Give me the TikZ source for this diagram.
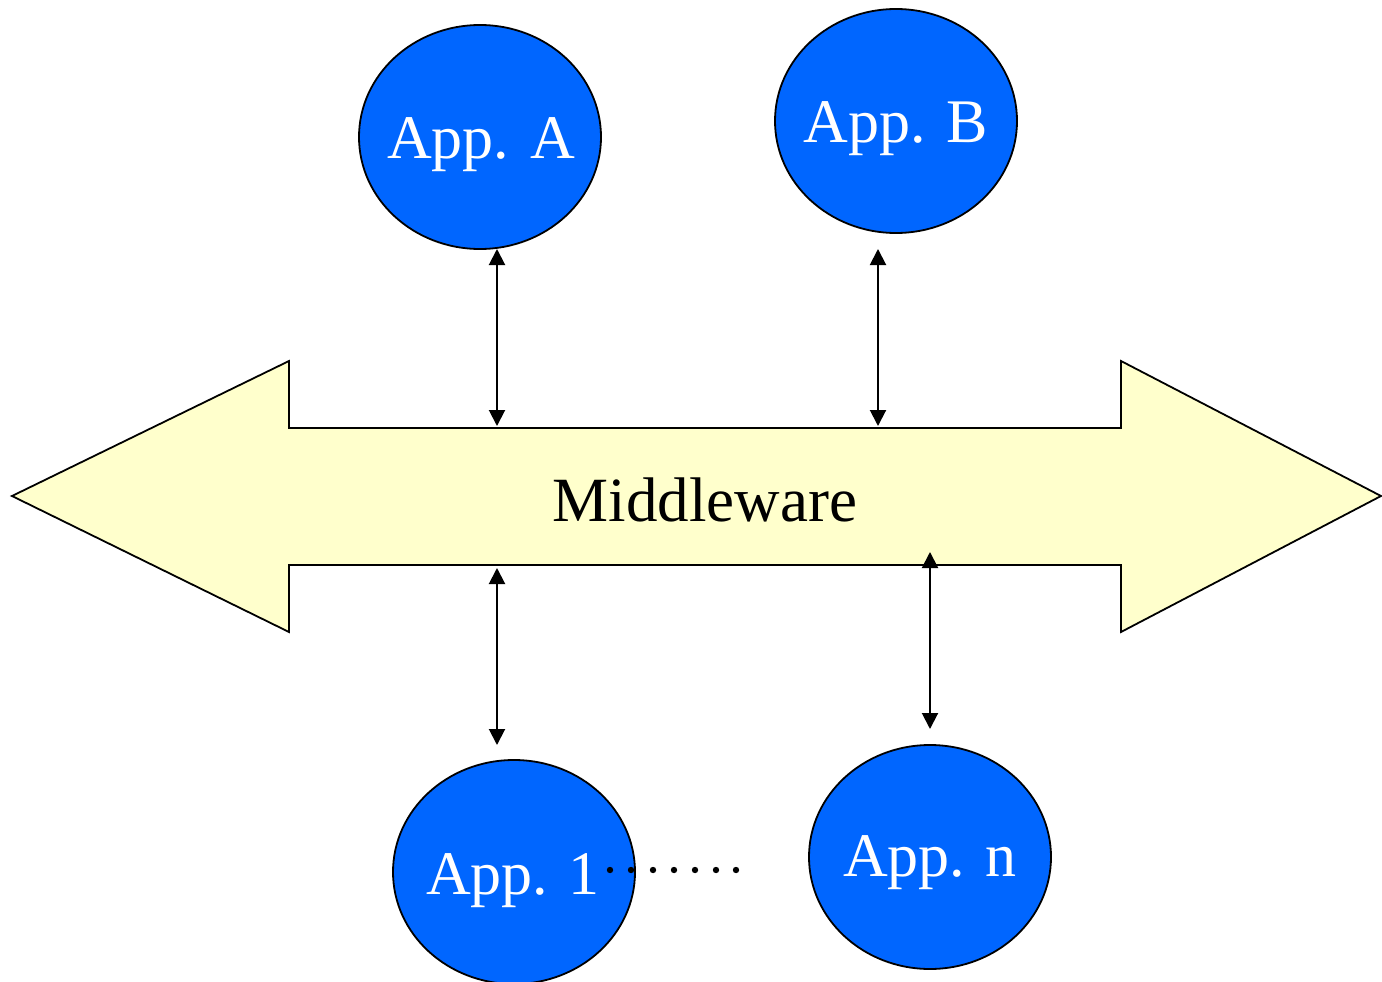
\documentclass[tikz,border=0pt]{standalone}
\usepackage{fontspec}
\setmainfont{Liberation Serif}
\usetikzlibrary{shapes.geometric,arrows.meta}
\definecolor{appblue}{HTML}{0066FF}
\definecolor{mwyellow}{HTML}{FFFFCC}
\tikzset{
  app/.style={ellipse, draw=black, line width=1.8pt, fill=appblue, minimum width=242pt, minimum height=224pt, inner sep=0pt},
  apptext/.style={text=white, font=\fontsize{62}{62}\selectfont, inner sep=0pt},
  link/.style={line width=2pt, {Triangle[width=16pt,length=16pt]}-{Triangle[width=16pt,length=16pt]}},
  dotmark/.style={fill=black}
}
\begin{document}
\begin{tikzpicture}[x=1pt,y=-1pt]
\useasboundingbox (0,0) rectangle (1382,982);
% middleware double arrow
\draw[line width=1.8pt, fill=mwyellow, line join=miter]
  (12,496) -- (289,361) -- (289,428) -- (1121,428) -- (1121,361) -- (1381,496)
  -- (1121,632) -- (1121,565) -- (289,565) -- (289,632) -- cycle;
\node[font=\fontsize{63}{63}\selectfont, text=black] (mw) at (705,500) {Middleware};
% applications
\node[app] (A) at (480,137) {};
\node[app] (B) at (896,121) {};
\node[app] (one) at (514,872) {};
\node[app] (n) at (930,857) {};
\node[apptext] (At) at (481,145) {App. A};
\node[apptext] (Bt) at (896,129) {App. B};
\node[apptext] (onet) at (513,881) {App. 1};
\node[apptext] (nt) at (930,863) {App. n};
% connector end points
\coordinate (Ab) at (497,249);
\coordinate (Am) at (497,426);
\coordinate (Bb) at (878,249);
\coordinate (Bm) at (878,426);
\coordinate (1m) at (497,568);
\coordinate (1b) at (497,745);
\coordinate (nm) at (930,552);
\coordinate (nb) at (930,729);
\draw[link] (Ab) -- (Am);
\draw[link] (Bb) -- (Bm);
\draw[link] (1m) -- (1b);
\draw[link] (nm) -- (nb);
% dots
\foreach \x in {610,631,653,674,695,716,736} {
  \fill[dotmark] (\x,870) circle (3.2pt);
}
\end{tikzpicture}
\end{document}
